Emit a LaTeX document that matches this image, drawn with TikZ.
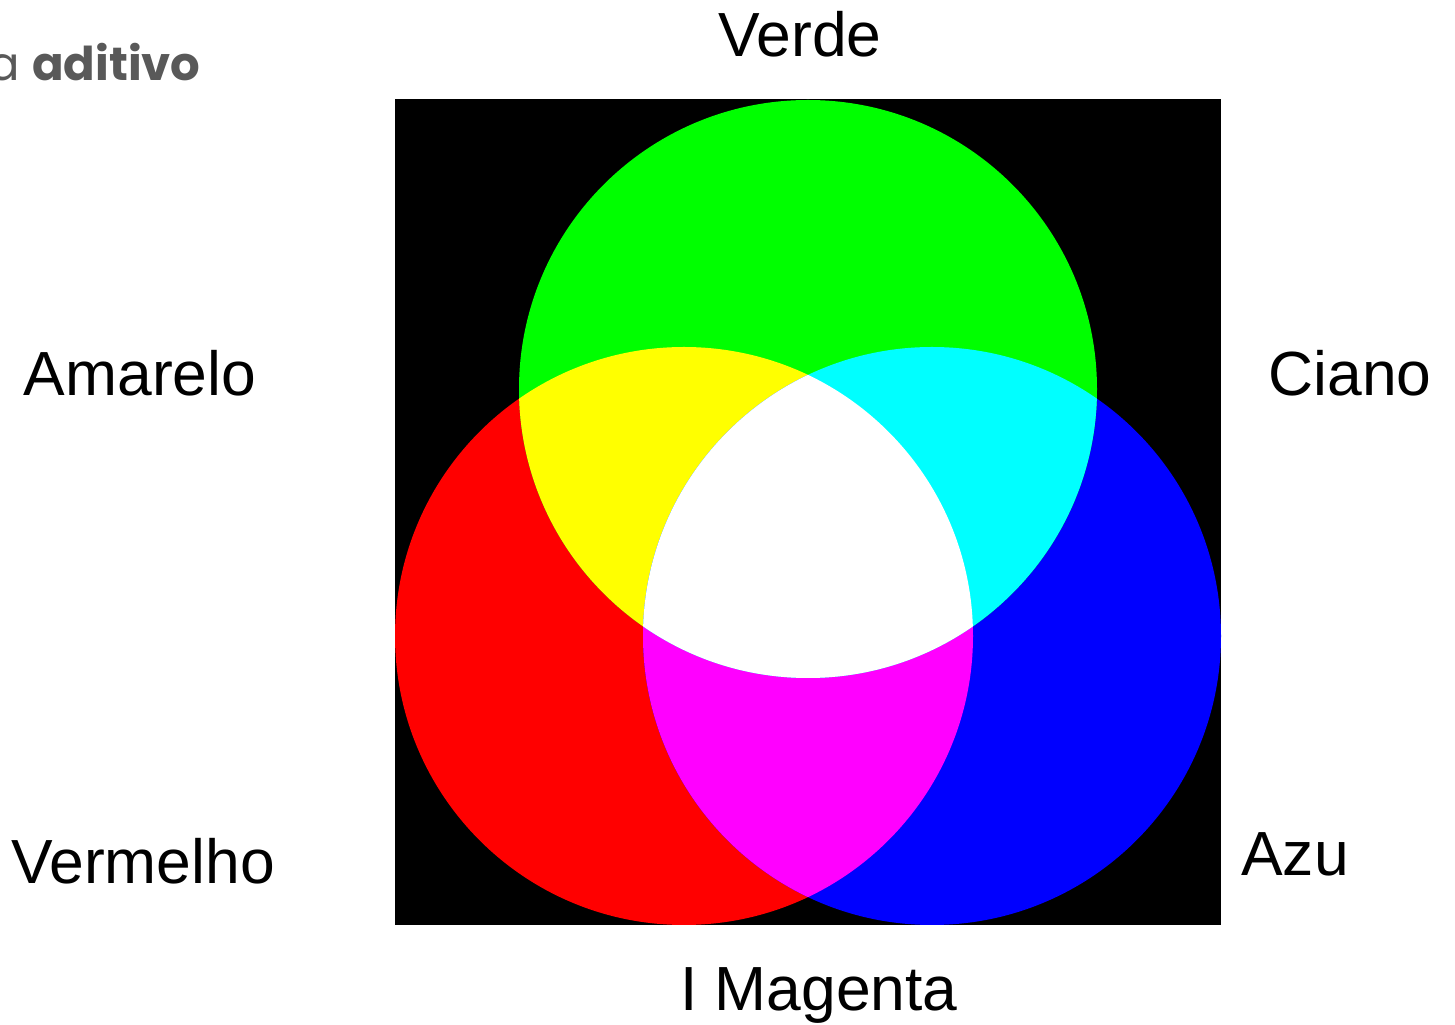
\documentclass[tikz,border=0pt]{standalone}
\usepackage{fontspec}
\setmainfont{Liberation Sans}
\newfontfamily\titlefont{Poppins}
\definecolor{titlegray}{RGB}{89,89,89}
\definecolor{luzvermelha}{RGB}{255,0,0}
\definecolor{luzverde}{RGB}{0,255,0}
\definecolor{luzazul}{RGB}{0,0,255}
\definecolor{luzamarela}{RGB}{255,255,0}
\definecolor{luzciano}{RGB}{0,255,255}
\definecolor{luzmagenta}{RGB}{255,0,255}

\begin{document}
\begin{tikzpicture}[x=.02cm,y=.02cm,
  lbl/.style={font=\fontsize{35.5}{40}\selectfont,anchor=base}]
  \useasboundingbox (0,0) rectangle (1455,1025);
  \fill[black] (395,100) rectangle (1221,926);
  \def\rad{289}
  \coordinate (g) at (808,636);
  \coordinate (r) at (684,389);
  \coordinate (b) at (932,389);
  % primaries
  \fill[luzvermelha] (r) circle (\rad);
  \fill[luzazul] (b) circle (\rad);
  \fill[luzverde] (g) circle (\rad);
  % mixes
  \begin{scope}
    \clip (r) circle (\rad);
    \fill[luzamarela] (g) circle (\rad);
    \fill[luzmagenta] (b) circle (\rad);
  \end{scope}
  \begin{scope}
    \clip (g) circle (\rad);
    \fill[luzciano] (b) circle (\rad);
  \end{scope}
  \begin{scope}
    \clip (r) circle (\rad);
    \clip (g) circle (\rad);
    \fill[white] (b) circle (\rad);
  \end{scope}
  % labels
  \node[lbl] (verde) at (800,968) {Verde};
  \node[lbl] (amarelo) at (140,629) {Amarelo};
  \node[lbl] (ciano) at (1350,629) {Ciano};
  \node[lbl] (vermelho) at (143,141) {Vermelho};
  \node[lbl] (azu) at (1295,149) {Azu};
  \node[lbl] (magenta) at (819,14) {I Magenta};
  \node[anchor=base east,inner sep=0pt,text=titlegray,
    font=\titlefont\fontsize{26.5}{30}\selectfont] (titulo) at (201,944)
    {{\mdseries a} \bfseries aditivo};
\end{tikzpicture}
\end{document}
